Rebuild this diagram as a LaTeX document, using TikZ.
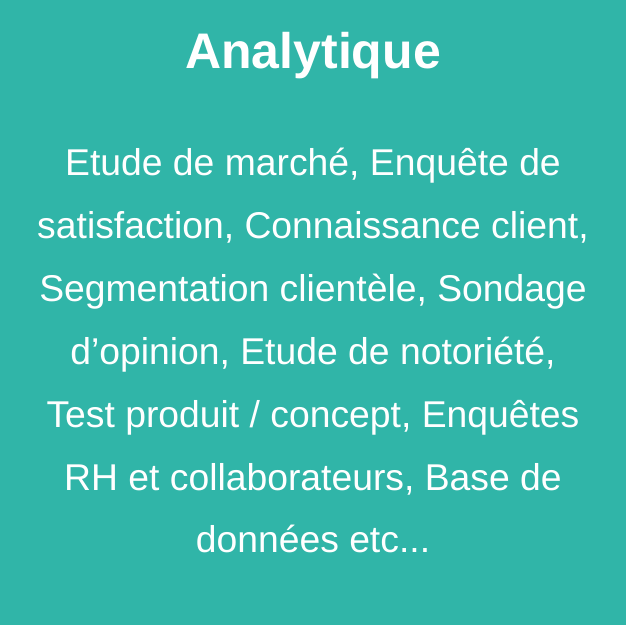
\documentclass[tikz,border=0pt]{standalone}
\usepackage{fontspec}
\setmainfont{Liberation Sans}
\definecolor{teal1}{RGB}{48,181,168}
\begin{document}
\begin{tikzpicture}[x=1pt,y=1pt,
  title/.style={text=white,font=\fontsize{50}{60}\selectfont\bfseries,anchor=base,inner sep=0pt},
  body/.style={text=white,font=\fontsize{37.3}{44}\selectfont,anchor=base,inner sep=0pt}]
\fill[teal1] (0,0) rectangle (626,625);
\useasboundingbox (0,0) rectangle (626,625);
\node[title] (t) at (313,625-69) {Analytique};
\node[body] (l1) at (313,625-176) {Etude de marché, Enquête de};
\node[body] (l2) at (313,625-238.8) {satisfaction, Connaissance client,};
\node[body] (l3) at (313,625-301.6) {Segmentation clientèle, Sondage};
\node[body] (l4) at (313,625-364.4) {d’opinion, Etude de notoriété,};
\node[body] (l5) at (313,625-427.2) {Test produit / concept, Enquêtes};
\node[body] (l6) at (313,625-490) {RH et collaborateurs, Base de};
\node[body] (l7) at (313,625-552.8) {données etc...};
\end{tikzpicture}
\end{document}
